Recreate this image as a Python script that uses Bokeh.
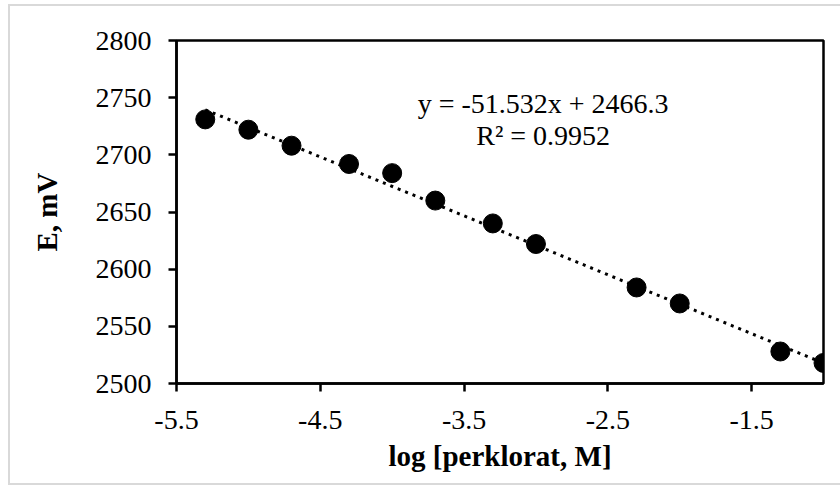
from bokeh.plotting import figure
from bokeh.models import Range1d, FixedTicker, ColumnDataSource
from bokeh.core.properties import value
from bokeh.embed import file_html
from bokeh.resources import INLINE

# ---- data ----
log_perchlorate = [-5.3, -5.0, -4.7, -4.3, -4.0, -3.7, -3.3, -3.0, -2.3, -2.0, -1.3, -1.0]
potential_mV = [2731, 2722, 2708, 2692, 2684, 2660, 2640, 2622, 2584, 2570, 2528, 2518]
slope = -51.532
intercept = 2466.3
r_squared = 0.9952
x_ticks = [-5.5, -4.5, -3.5, -2.5, -1.5]
x_tick_labels = ["-5.5", "-4.5", "-3.5", "-2.5", "-1.5"]
y_ticks = [2500, 2550, 2600, 2650, 2700, 2750, 2800]
y_tick_labels = ["2500", "2550", "2600", "2650", "2700", "2750", "2800"]
x_title = "log [perklorat, M]"
y_title = "E, mV"
eq_text = ["y = -51.532x + 2466.3", "R\u00b2 = 0.9952"]

# ---- layout constants ----
FONT = "Times New Roman"
W, H = 840, 486
eq_pos_x = -2.95
eq_pos_y = [2745, 2717]

p = figure(width=W, height=H, output_backend="svg", toolbar_location=None,
           x_range=Range1d(-5.5, -1.0), y_range=Range1d(2500, 2800),
           min_border_left=176, min_border_right=17, min_border_top=40, min_border_bottom=103)

p.background_fill_color = "white"
p.border_fill_color = None
p.outline_line_color = "black"
p.outline_line_width = 2.5
p.grid.visible = False

# light grey chart-area border drawn behind the (transparent) canvas border
p.styles = {
    "background-color": "white",
    "background-image": ("linear-gradient(#d9d9d9,#d9d9d9), "
                         "linear-gradient(#d9d9d9,#d9d9d9), "
                         "linear-gradient(#d9d9d9,#d9d9d9)"),
    "background-size": "2px 481px, 840px 2px, 840px 2px",
    "background-position": "8px 4px, 8px 4px, 8px 483px",
    "background-repeat": "no-repeat",
}

p.axis.axis_line_color = "black"
p.axis.axis_line_width = 2.5
p.axis.major_tick_line_color = "black"
p.axis.major_tick_line_width = 2.5
p.axis.major_tick_in = 0
p.axis.major_tick_out = 8
p.axis.minor_tick_line_color = None
p.axis.major_label_text_font = FONT
p.axis.major_label_text_font_size = "28px"
p.axis.major_label_text_color = "black"
p.axis.axis_label_text_font = FONT
p.axis.axis_label_text_font_size = "29px"
p.axis.axis_label_text_font_style = "bold"
p.axis.axis_label_text_color = "black"

p.xaxis.ticker = FixedTicker(ticks=x_ticks)
p.yaxis.ticker = FixedTicker(ticks=y_ticks)
p.xaxis.major_label_overrides = dict(zip(x_ticks, x_tick_labels))
p.yaxis.major_label_overrides = dict(zip(y_ticks, y_tick_labels))
p.xaxis.axis_label = x_title
p.yaxis.axis_label = y_title
p.xaxis.major_label_standoff = 19
p.yaxis.major_label_standoff = 17
p.xaxis.axis_label_standoff = 8
p.yaxis.axis_label_standoff = 30

# trendline from the displayed equation
tx = [min(log_perchlorate), max(log_perchlorate)]
ty = [slope * x + intercept for x in tx]
p.line(tx, ty, line_color="black", line_width=3, line_dash="3 5")

p.scatter(log_perchlorate, potential_mV, size=19, marker="circle",
          fill_color="black", line_color="black")

src = ColumnDataSource(dict(x=[eq_pos_x, eq_pos_x], y=eq_pos_y, t=eq_text))
p.text(x="x", y="y", text="t", source=src, text_font=value(FONT),
       text_font_size="28px", text_align="center", text_baseline="middle",
       text_color="black")

open("out.html", "w").write(file_html(p, INLINE))
